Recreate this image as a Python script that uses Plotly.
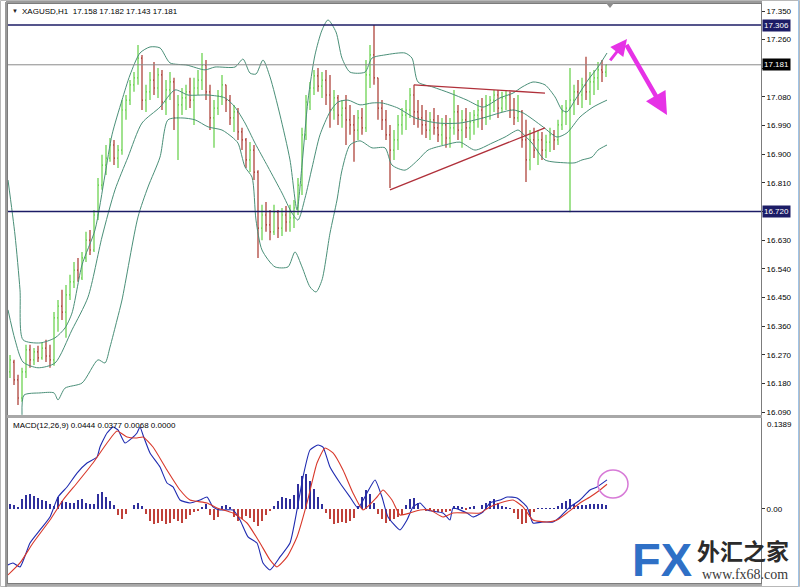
import plotly.graph_objects as go

# ---------------- data ----------------
bar_index = list(range(150))

open_ = [16.216,16.247,16.191,16.134,16.216,16.285,16.254,16.279,16.260,16.291,
         16.266,16.254,16.386,16.423,16.404,16.458,16.499,16.536,16.511,16.574,
         16.630,16.599,16.709,16.803,16.866,16.888,16.929,16.888,16.913,17.039,
         17.070,17.118,17.140,17.202,17.070,17.096,17.133,17.108,17.149,17.064,
         17.102,17.127,17.014,17.055,17.077,17.096,17.070,17.108,17.133,17.180,
         17.096,17.014,17.045,17.083,17.118,17.070,17.014,17.033,16.970,16.945,
         16.882,16.913,16.844,16.668,16.709,16.678,16.656,16.718,16.668,16.709,
         16.687,16.700,16.731,16.803,16.961,17.064,17.108,17.146,17.114,17.133,
         17.086,17.039,17.077,17.023,17.045,17.008,16.992,16.976,17.014,16.983,
         17.149,17.212,17.140,17.045,17.008,16.961,16.913,16.945,16.992,17.023,
         17.039,17.086,17.033,17.014,16.992,16.976,17.008,16.983,16.961,16.992,
         16.951,16.983,17.033,16.976,17.008,16.983,17.001,17.023,17.039,17.014,
         17.055,17.070,17.086,17.045,17.077,17.086,17.039,17.014,17.033,16.945,
         16.882,16.945,16.913,16.945,16.913,16.938,16.961,16.945,16.992,17.033,
         17.045,17.070,17.096,17.086,17.118,17.096,17.127,17.140,17.165,17.158]

high = [16.269,16.254,16.207,16.229,16.301,16.301,16.291,16.298,16.310,16.317,
        16.301,16.404,16.442,16.474,16.489,16.521,16.561,16.574,16.593,16.656,
        16.662,16.725,16.825,16.898,16.929,16.951,16.945,16.929,17.070,17.086,
        17.133,17.158,17.243,17.212,17.118,17.158,17.190,17.171,17.165,17.133,
        17.158,17.140,17.086,17.108,17.118,17.140,17.140,17.165,17.218,17.196,
        17.118,17.070,17.102,17.149,17.118,17.086,17.055,17.045,16.983,16.951,
        16.938,16.929,16.850,16.741,16.750,16.725,16.741,16.725,16.731,16.737,
        16.741,16.756,16.825,16.983,17.086,17.127,17.165,17.171,17.158,17.165,
        17.149,17.102,17.086,17.070,17.086,17.055,17.023,17.039,17.045,17.196,
        17.243,17.306,17.140,17.070,17.039,16.992,16.976,17.023,17.045,17.070,
        17.108,17.118,17.070,17.055,17.039,17.033,17.045,17.023,17.014,17.023,
        17.014,17.102,17.055,17.039,17.045,17.033,17.039,17.070,17.077,17.086,
        17.083,17.102,17.102,17.096,17.102,17.096,17.077,17.086,17.039,17.008,
        16.976,16.983,16.976,16.970,16.961,16.983,16.976,17.008,17.055,17.070,
        17.171,17.118,17.133,17.140,17.206,17.158,17.165,17.190,17.196,17.182]

low = [16.197,16.175,16.112,16.122,16.197,16.229,16.238,16.247,16.254,16.247,
       16.229,16.235,16.342,16.379,16.323,16.442,16.480,16.499,16.505,16.561,
       16.583,16.593,16.693,16.788,16.835,16.876,16.866,16.857,16.898,17.008,
       17.055,17.096,17.118,17.039,17.033,17.070,17.086,17.077,17.039,17.023,
       17.070,16.976,16.882,17.023,17.039,17.045,16.992,17.086,17.102,17.070,
       16.976,16.920,17.023,17.055,17.033,16.992,16.970,16.945,16.913,16.857,
       16.844,16.819,16.574,16.630,16.656,16.630,16.646,16.637,16.643,16.656,
       16.656,16.668,16.709,16.772,16.945,17.039,17.086,17.096,17.077,17.055,
       16.983,17.008,16.992,16.983,16.929,16.961,16.876,16.945,16.961,16.970,
       17.108,17.118,17.008,16.976,16.945,16.794,16.882,16.913,16.961,16.976,
       17.014,16.992,16.983,16.961,16.951,16.945,16.961,16.938,16.929,16.920,
       16.920,16.961,16.945,16.920,16.951,16.945,16.961,16.983,16.976,16.992,
       17.008,17.033,17.014,17.033,17.039,17.014,16.992,17.001,16.920,16.813,
       16.850,16.888,16.866,16.882,16.888,16.907,16.913,16.929,16.976,16.992,
       16.718,17.023,17.055,17.045,17.070,17.055,17.086,17.102,17.127,17.143]

close = [16.254,16.191,16.134,16.216,16.285,16.254,16.279,16.260,16.291,16.266,
         16.254,16.386,16.423,16.404,16.458,16.499,16.536,16.511,16.574,16.630,
         16.599,16.709,16.803,16.866,16.888,16.929,16.888,16.913,17.039,17.070,
         17.118,17.140,17.202,17.070,17.096,17.133,17.108,17.149,17.064,17.102,
         17.127,17.014,17.055,17.077,17.096,17.070,17.108,17.133,17.180,17.096,
         17.014,17.045,17.083,17.118,17.070,17.014,17.033,16.970,16.945,16.882,
         16.913,16.844,16.668,16.709,16.678,16.656,16.718,16.668,16.709,16.687,
         16.700,16.731,16.803,16.961,17.064,17.108,17.146,17.114,17.133,17.086,
         17.039,17.077,17.023,17.045,17.008,16.992,16.976,17.014,16.983,17.149,
         17.212,17.140,17.045,17.008,16.961,16.913,16.945,16.992,17.023,17.039,
         17.086,17.033,17.014,16.992,16.976,17.008,16.983,16.961,16.992,16.951,
         16.983,17.033,16.976,17.008,16.983,17.001,17.023,17.039,17.014,17.055,
         17.070,17.086,17.045,17.077,17.086,17.039,17.014,17.033,16.945,16.882,
         16.945,16.913,16.945,16.913,16.938,16.961,16.945,16.992,17.033,17.045,
         17.070,17.096,17.086,17.118,17.096,17.127,17.140,17.165,17.158,17.181]

# Bollinger bands (x in bar units)
bb_upper_x = [-0.5,1.25,2.5,3.25,7.5,11.25,13.75,15.5,18,21.25,23.75,25.5,28,30,32.5,35,37.5,40,
              44.25,48.75,51.25,56.25,58.25,60,61.5,63.25,65,67.5,70,71.75,73,74.5,76.25,78,79.5,
              81.5,83,85,88.75,90.5,93.75,98.75,100.5,102,105.75,110,114.25,118.25,122.5,125.75,
              128,130.75,133.75,136.25,138,139.25,141.25,144.5,147,149.25]
bb_upper = [16.819,16.646,16.474,16.317,16.307,16.323,16.354,16.401,16.552,16.662,16.835,16.961,
            17.070,17.149,17.218,17.237,17.234,17.187,17.180,17.165,17.174,17.174,17.199,17.155,
            17.152,17.196,17.143,17.023,16.882,16.725,16.866,17.070,17.212,17.290,17.322,17.284,
            17.202,17.158,17.158,17.202,17.212,17.218,17.202,17.127,17.111,17.092,17.070,17.048,
            17.077,17.092,17.111,17.127,17.118,17.080,17.039,17.033,17.070,17.133,17.174,17.218]

bb_mid_x = [-0.5,1.25,3.25,7,11.25,15.5,19.5,23,26.25,29.5,33,37.5,41.25,44.5,49.5,53.75,56.25,
            58.75,61.25,64.5,68,70.5,72,73.75,75.5,77.5,80,82,84.5,87.5,90.5,93,97,101.25,107,
            112.5,118.25,122.5,125.75,128.25,133.25,136.75,139.25,142.5,145.75,149.25]
bb_mid = [16.411,16.317,16.247,16.229,16.244,16.348,16.451,16.640,16.788,16.891,16.998,17.048,
          17.102,17.086,17.086,17.077,17.048,16.998,16.935,16.860,16.778,16.715,16.693,16.762,
          16.857,16.961,17.033,17.064,17.070,17.055,17.061,17.061,17.045,17.014,16.998,16.998,
          17.014,17.030,17.039,17.030,16.986,16.954,16.967,17.017,17.048,17.070]

bb_lower_x = [3,3.5,7.5,11,12,13.75,18,22,23.75,25,26.75,28,32,34.5,37.5,39.5,43,46.25,49.5,53,
              55.5,57,58.75,60.5,61.5,63,66.25,69.5,71.25,73,75,76.5,78,80,81.75,83,85,87.5,
              90.5,93.75,95.5,98.75,102,104.5,108.75,112.5,116.25,120.5,123.75,127,128,130.5,
              133.75,138.75,141.25,143,145.5,147,149.25]
bb_lower = [16.081,16.143,16.150,16.150,16.128,16.165,16.181,16.254,16.244,16.294,16.379,16.442,
            16.703,16.797,16.891,17.008,17.014,17.008,16.986,16.976,16.954,16.935,16.860,16.828,
            16.693,16.599,16.546,16.546,16.593,16.546,16.483,16.467,16.505,16.652,16.756,16.850,
            16.929,16.942,16.920,16.920,16.866,16.850,16.882,16.913,16.929,16.938,16.913,16.935,
            16.954,16.976,16.967,16.935,16.882,16.873,16.873,16.882,16.891,16.913,16.929]

# MACD(12,26,9)
macd_x = [-0.5,0.75,2.5,5,7.5,10,12,14.25,16.75,19.25,21.75,22.5,24.25,25.75,27,28.75,30.5,31.75,
          32.5,33.25,35,37.5,39.25,40.75,42.5,45,47.5,49.25,50.75,52.5,55.75,57.5,59.5,61.75,
          63.25,65,67.5,70,71.75,73.25,75,77,78.25,80,82.5,85,87,89.25,91.25,93,94.5,97.5,99.25,
          100.75,102.5,104.25,108.25,110,110.75,114.25,115.75,118.25,120,122.5,124.25,126.75,
          129.25,130.75,133.25,135.75,137.5,140,142.5,145,146.75,149.25]
macd_main = [-0.0855,-0.0824,-0.0885,-0.0519,-0.0320,-0.0122,0.0183,0.0336,0.0549,0.0702,0.0794,
             0.0946,0.1160,0.1251,0.1206,0.1007,0.1083,0.1160,0.1251,0.1129,0.0855,0.0641,0.0397,
             0.0336,0.0137,0.0092,0.0137,0.0183,0.0031,-0.0015,-0.0015,-0.0168,-0.0427,-0.0519,
             -0.0824,-0.0931,-0.0732,-0.0519,-0.0015,0.0488,0.0900,0.0977,0.0946,0.0641,0.0397,
             0.0183,0.0015,0.0244,0.0443,0.0183,-0.0122,-0.0320,-0.0168,0.0031,0.0092,-0.0015,
             -0.0061,-0.0168,0.0015,-0.0061,-0.0122,-0.0046,0.0092,0.0137,0.0183,0.0168,0.0031,
             -0.0214,-0.0198,-0.0198,-0.0122,0.0031,0.0137,0.0290,0.0336,0.0444]

signal_x = [-0.5,2.5,5.75,10,13.25,16.75,20.75,24.25,26.75,29.25,31.75,33.25,35.75,39.25,42.5,45,
            49.25,51.75,55.75,59.25,62.5,65,66.75,69.25,71.75,74.25,76.75,78.75,80.75,83.25,85.75,
            88.25,91.75,93.25,95.5,97.5,100,102.5,105,108.25,110.75,114.25,117.5,120,122.5,125.75,
            128.25,130.75,134.25,136.75,139.25,142.5,145,147.5,149.25]
macd_signal = [-0.1007,-0.0824,-0.0519,-0.0168,0.0137,0.0397,0.0702,0.1007,0.1190,0.1099,0.1083,
               0.1099,0.0946,0.0595,0.0290,0.0137,0.0092,0.0015,-0.0061,-0.0214,-0.0519,-0.0778,
               -0.0885,-0.0732,-0.0427,0.0092,0.0702,0.0931,0.0855,0.0595,0.0244,-0.0015,0.0183,
               0.0290,0.0137,-0.0092,-0.0061,-0.0015,-0.0015,-0.0122,-0.0061,-0.0061,-0.0061,
               0.0031,0.0092,0.0137,0.0031,-0.0168,-0.0198,-0.0168,-0.0061,0.0092,0.0183,0.0290,
               0.0377]

macd_hist = [0.0076,0.0061,0.0031,0.0153,0.0214,0.0229,0.0198,0.0168,0.0137,0.0122,
             0.0076,0.0046,0.0183,0.0122,0.0107,0.0092,0.0092,0.0137,0.0153,0.0092,
             0.0076,0.0076,0.0229,0.0259,0.0183,0.0122,0.0061,-0.0092,-0.0153,-0.0076,
             0.0,0.0061,0.0092,0.0046,-0.0076,-0.0183,-0.0229,-0.0214,-0.0183,-0.0229,
             -0.0214,-0.0153,-0.0183,-0.0214,-0.0153,-0.0092,-0.0046,-0.0031,0.0031,0.0076,
             -0.0092,-0.0168,-0.0122,0.0046,0.0061,0.0031,-0.0122,-0.0183,-0.0153,-0.0107,
             -0.0137,-0.0198,-0.0259,-0.0183,-0.0092,-0.0031,0.0046,0.0122,0.0183,0.0168,
             0.0153,0.0214,0.0382,0.0504,0.0534,0.0427,0.0305,0.0183,0.0076,-0.0061,
             -0.0153,-0.0229,-0.0214,-0.0198,-0.0214,-0.0183,-0.0137,0.0046,0.0183,0.0290,
             0.0229,0.0092,-0.0076,-0.0153,-0.0214,-0.0183,-0.0153,-0.0122,-0.0092,0.0061,
             0.0153,0.0168,0.0092,0.0,-0.0031,-0.0015,-0.0046,-0.0046,-0.0046,-0.0046,
             -0.0031,0.0046,0.0046,0.0031,-0.0015,0.0031,0.0046,0.0,0.0061,0.0092,
             0.0122,0.0153,0.0092,0.0046,0.0031,0.0015,-0.0061,-0.0153,-0.0229,-0.0214,
             -0.0122,-0.0046,0.0008,0.0008,0.0008,0.0008,0.0015,0.0046,0.0092,0.0122,
             0.0153,0.0076,0.0046,0.0061,0.0061,0.0076,0.0076,0.0076,0.0076,0.0068]

price_ticks = [17.350,17.260,17.170,17.080,16.990,16.900,16.810,16.720,16.630,16.540,
               16.450,16.360,16.270,16.180,16.090]
# 17.170 and 16.720 sit under the highlighted price boxes, so their plain text is blank
price_tick_labels = ["17.350","17.260","","17.080","16.990","16.900","16.810","",
                     "16.630","16.540","16.450","16.360","16.270","16.180","16.090"]
macd_ticks = [0.0]
macd_tick_labels = ["0.00"]
macd_top_label = "0.1389"

level_high = 17.306
level_low = 16.720
last_price = 17.181

title_text = "XAGUSD,H1  17.158 17.182 17.143 17.181"
macd_text = "MACD(12,26,9) 0.0444 0.0377 0.0068 0.0000"

tri_upper_x = [101.0, 133.75]
tri_upper_y = [17.118, 17.092]
tri_lower_x = [95.0, 133.75]
tri_lower_y = [16.788, 16.983]

arrow1_x = [149.75, 154.25]   # tail, head
arrow1_y = [17.190, 17.262]
arrow2_x = [153.9, 164.25]
arrow2_y = [17.248, 17.023]

circle_x = [147.0, 154.5]
circle_y = [0.0168, 0.0595]

# ---------------- styling ----------------
W, H = 800, 587
def px(x):
    return x / W
def py(y):
    return 1 - y / H

GREEN = "#62cf45"
RED = "#a8352c"
BAND = "#4a8f78"
NAVY = "#1c1c66"
FONT = "Liberation Sans, Arial, sans-serif"
X_RANGE = [-0.5, 187.75]
XDOM = [px(8), px(761)]

fig = go.Figure()

fig.add_trace(go.Ohlc(
    x=bar_index, open=open_, high=high, low=low, close=close,
    increasing=dict(line=dict(color=GREEN, width=1.2)),
    decreasing=dict(line=dict(color=RED, width=1.2)),
    tickwidth=0.25, showlegend=False, hoverinfo="skip", xaxis="x", yaxis="y"))

for bx, by in [(bb_upper_x, bb_upper), (bb_mid_x, bb_mid), (bb_lower_x, bb_lower)]:
    fig.add_trace(go.Scatter(x=bx, y=by, mode="lines", showlegend=False, hoverinfo="skip",
                             line=dict(color=BAND, width=1, shape="spline", smoothing=0.7),
                             xaxis="x", yaxis="y"))

for tx, ty in [(tri_upper_x, tri_upper_y), (tri_lower_x, tri_lower_y)]:
    fig.add_trace(go.Scatter(x=tx, y=ty, mode="lines", showlegend=False, hoverinfo="skip",
                             line=dict(color="#b0303a", width=1.3), xaxis="x", yaxis="y"))

hist_colors = ["#2f2f9c" if v >= 0 else "#c0413a" for v in macd_hist]
fig.add_trace(go.Bar(x=bar_index, y=macd_hist, marker=dict(color=hist_colors, line=dict(width=0)),
                     width=0.42, showlegend=False, hoverinfo="skip", xaxis="x2", yaxis="y2"))
fig.add_trace(go.Scatter(x=macd_x, y=macd_main, mode="lines", showlegend=False, hoverinfo="skip",
                         line=dict(color="#1f2bb0", width=1.1, shape="spline", smoothing=0.5),
                         xaxis="x2", yaxis="y2"))
fig.add_trace(go.Scatter(x=signal_x, y=macd_signal, mode="lines", showlegend=False, hoverinfo="skip",
                         line=dict(color="#d8382a", width=1.1, shape="spline", smoothing=0.5),
                         xaxis="x2", yaxis="y2"))

axis_common = dict(showgrid=False, zeroline=False, showline=True, mirror=True,
                   linecolor="#7c7c7c", linewidth=1, automargin=False)

fig.update_layout(
    width=W, height=H, margin=dict(l=0, r=0, t=0, b=0, autoexpand=False),
    paper_bgcolor="white", plot_bgcolor="white", bargap=0,
    font=dict(family=FONT, size=8, color="black"),
    xaxis=dict(domain=XDOM, range=X_RANGE, showticklabels=False, ticks="",
               rangeslider=dict(visible=False), anchor="y", **axis_common),
    yaxis=dict(domain=[py(415), py(4)], range=[16.0806, 17.372], side="right", anchor="x",
               tickvals=price_ticks, ticktext=price_tick_labels, ticks="outside", ticklen=3,
               tickcolor="#333", tickfont=dict(family=FONT, size=8, color="black"), **axis_common),
    xaxis2=dict(domain=XDOM, range=X_RANGE, showticklabels=False, ticks="", anchor="y2",
                **axis_common),
    yaxis2=dict(domain=[py(583), py(418)], range=[-0.113, 0.1389], side="right", anchor="x2",
                tickvals=macd_ticks, ticktext=macd_tick_labels, ticks="outside", ticklen=3,
                tickcolor="#333", tickfont=dict(family=FONT, size=8, color="black"), **axis_common),
)

shapes = []
# panel separator and outer frame
shapes.append(dict(type="rect", xref="paper", yref="paper", x0=px(6), x1=px(762),
                   y0=py(418), y1=py(415), fillcolor="#a8a8a8", line=dict(width=0), layer="above"))
shapes.append(dict(type="rect", xref="paper", yref="paper", x0=px(6), x1=px(762),
                   y0=py(587), y1=py(584), fillcolor="#a8a8a8", line=dict(width=0), layer="above"))
shapes.append(dict(type="rect", xref="paper", yref="paper", x0=px(0.5), x1=px(799.5),
                   y0=py(586.5), y1=py(0.5), line=dict(color="#b8b8b8", width=1)))
shapes.append(dict(type="line", xref="paper", yref="paper", x0=px(6), x1=px(6),
                   y0=py(587), y1=py(2), line=dict(color="#9a9a9a", width=2)))
shapes.append(dict(type="line", xref="paper", yref="paper", x0=px(6), x1=px(762),
                   y0=py(2), y1=py(2), line=dict(color="#9a9a9a", width=2)))
shapes.append(dict(type="line", xref="paper", yref="paper", x0=px(798.5), x1=px(798.5),
                   y0=py(587), y1=py(0), line=dict(color="#9fc3e6", width=1)))
# horizontal levels
for lvl, col, wid in [(level_high, NAVY, 1.3), (level_low, NAVY, 1.3), (last_price, "#8a8a8a", 1)]:
    shapes.append(dict(type="line", xref="paper", yref="y", x0=XDOM[0], x1=XDOM[1],
                       y0=lvl, y1=lvl, line=dict(color=col, width=wid)))
# shift marker at top
shapes.append(dict(type="path", xref="paper", yref="paper",
                   path=f"M {px(606)} {py(3)} L {px(614)} {py(3)} L {px(610)} {py(8)} Z",
                   fillcolor="#8c8c8c", line=dict(width=0)))
# circle in MACD window
shapes.append(dict(type="circle", xref="x2", yref="y2", x0=circle_x[0], x1=circle_x[1],
                   y0=circle_y[0], y1=circle_y[1], line=dict(color="#d77ad7", width=1.5)))
fig.update_layout(shapes=shapes)

ann = []
ann.append(dict(xref="paper", yref="paper", x=px(10), y=py(11), text="▼", showarrow=False,
                xanchor="left", yanchor="middle", font=dict(size=6, color="#222")))
ann.append(dict(xref="paper", yref="paper", x=px(20), y=py(11), text=title_text, showarrow=False,
                xanchor="left", yanchor="middle", font=dict(family=FONT, size=8, color="black")))
ann.append(dict(xref="paper", yref="paper", x=px(11), y=py(425), text=macd_text, showarrow=False,
                xanchor="left", yanchor="middle", font=dict(family=FONT, size=8, color="black")))
ann.append(dict(xref="paper", yref="paper", x=px(765), y=py(424), text=macd_top_label,
                showarrow=False, xanchor="left", yanchor="middle",
                font=dict(family=FONT, size=8, color="black")))
for lvl, bg in [(level_high, NAVY), (level_low, NAVY), (last_price, "#000000")]:
    ann.append(dict(xref="paper", yref="y", x=px(762), y=lvl, text=f"{lvl:.3f}", showarrow=False,
                    xanchor="left", yanchor="middle", bgcolor=bg, borderpad=1,
                    font=dict(family=FONT, size=8, color="white")))
# magenta forecast arrows
ann.append(dict(xref="x", yref="y", axref="x", ayref="y", x=arrow1_x[1], y=arrow1_y[1],
                ax=arrow1_x[0], ay=arrow1_y[0], text="", showarrow=True, arrowhead=2,
                arrowsize=1.1, arrowwidth=3, arrowcolor="#e632e6"))
ann.append(dict(xref="x", yref="y", axref="x", ayref="y", x=arrow2_x[1], y=arrow2_y[1],
                ax=arrow2_x[0], ay=arrow2_y[0], text="", showarrow=True, arrowhead=2,
                arrowsize=1.0, arrowwidth=4.5, arrowcolor="#e632e6"))
# watermark
ann.append(dict(xref="paper", yref="paper", x=px(662), y=py(559), text="<b>FX</b>", showarrow=False,
                xanchor="center", yanchor="middle",
                font=dict(family="Liberation Sans Narrow, Liberation Sans, Arial", size=47,
                          color="#2f70c6")))
ann.append(dict(xref="paper", yref="paper", x=px(743), y=py(550), text="<b>外汇之家</b>",
                showarrow=False, xanchor="center", yanchor="middle",
                font=dict(family="Noto Sans CJK SC", size=23, color="#2b2b2b")))
ann.append(dict(xref="paper", yref="paper", x=px(745), y=py(574), text="www.fx68.com",
                showarrow=False, xanchor="center", yanchor="middle",
                font=dict(family="Liberation Serif, serif", size=14, color="#3a3a3a")))
fig.update_layout(annotations=ann)

# remove the browser's default 8px page margin so the 800x587 figure fills the window exactly
page_fix = "document.body.style.margin='0px';document.body.style.overflow='hidden';"
fig.write_html("out.html", include_plotlyjs=True, config={"displayModeBar": False},
               post_script=page_fix)
